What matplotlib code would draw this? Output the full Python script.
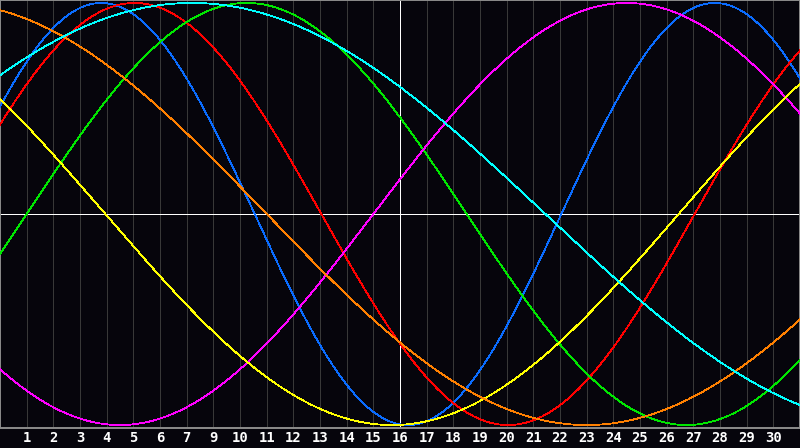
import matplotlib
matplotlib.use("Agg")
import matplotlib.pyplot as plt
import numpy as np

# biorhythm cycles: period (days) and day of peak
names = ["physical", "emotional", "intellectual", "intuitive", "aesthetic", "awareness", "spiritual"]
periods = [23, 28, 33, 38, 43, 48, 53]
peak_day = [3.8, 5.05, 9.25, 23.5, -6.8, -2.0, 7.2]
colors = ["#0a6cff", "#ff0000", "#00e600", "#ff00ff", "#ffff00", "#ff8000", "#00ffff"]

# day labels under the grid lines (8 is missing in the original)
tick_pos = list(range(1, 30))
tick_labels = ["1", "2", "3", "4", "5", "6", "7", "9", "10", "11", "12", "13", "14", "15",
               "16", "17", "18", "19", "20", "21", "22", "23", "24", "25", "26", "27",
               "28", "29", "30"]

bg = "#06050c"
px = 0.72  # one pixel at 100 dpi

fig = plt.figure(figsize=(8, 4.48), dpi=100, facecolor=bg)
ax = fig.add_axes([0, 1 - 428 / 448, 1, 428 / 448], facecolor=bg)

ax.set_xlim(0, 30)
ax.set_ylim(-1.014, 1.014)

for p in tick_pos:
    ax.axvline(p, color="#383838", lw=px * 0.9, zorder=1, antialiased=False)

t = np.linspace(0, 30, 1200)
for name, P, pk, c in zip(names, periods, peak_day, colors):
    ax.plot(t, np.cos(2 * np.pi * (t - pk) / P), color=c, lw=px * 0.8, zorder=3,
            antialiased=False, label=name)

ax.axhline(0, color="white", lw=px, zorder=2, antialiased=False)
ax.axvline(15, color="white", lw=px, zorder=2, antialiased=False)

for s in ax.spines.values():
    s.set_color("#8c8c8c")
    s.set_linewidth(1.4)

ax.set_xticks(tick_pos)
ax.set_xticklabels(tick_labels, color="white", fontsize=10, fontweight="bold",
                   family="DejaVu Sans Mono")
ax.tick_params(axis="x", length=0, pad=2)
ax.set_yticks([])

fig.savefig("out.png", dpi=100, facecolor=bg)
